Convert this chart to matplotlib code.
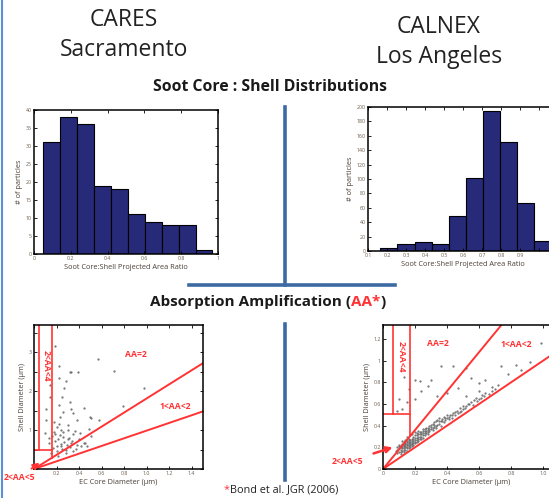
import numpy as np
import matplotlib.pyplot as plt
from matplotlib.lines import Line2D

W, H = 549, 498

# ---- histogram data ----
cares_edges = [0.05, 0.142, 0.234, 0.326, 0.418, 0.51, 0.602, 0.694, 0.786, 0.878, 0.97]
cares_counts = [31, 38, 36, 19, 18, 11, 9, 8, 8, 1]

calnex_edges = [0.165, 0.255, 0.345, 0.435, 0.525, 0.615, 0.705, 0.795, 0.885, 0.975, 1.065]
calnex_counts = [4, 10, 12, 10, 49, 102, 195, 152, 66, 14]

# ---- scatter data: EC core diameter vs shell diameter (um) ----
cares_core = [0.19, 0.22, 0.32, 0.33, 0.39, 0.57, 0.71, 0.98, 0.79, 0.50, 0.51, 0.58, 0.44,
              0.27, 0.28, 0.22, 0.25, 0.32, 0.33, 0.35, 0.38, 0.22, 0.23, 0.26, 0.20, 0.24,
              0.30, 0.35, 0.41, 0.49, 0.26, 0.30, 0.21, 0.19, 0.44, 0.47, 0.38, 0.32, 0.25,
              0.20, 0.51, 0.35, 0.28, 0.21, 0.11, 0.11, 0.10, 0.13, 0.14, 0.14, 0.13, 0.18,
              0.23, 0.27, 0.29, 0.31, 0.17, 0.19, 0.24, 0.28, 0.34, 0.37, 0.42, 0.18, 0.22,
              0.26, 0.30, 0.16, 0.20, 0.40, 0.45, 0.36, 0.15, 0.24, 0.33]
cares_shell = [3.15, 2.65, 2.50, 2.48, 2.48, 2.82, 2.51, 2.08, 1.62, 1.34, 1.30, 1.26, 1.58,
               2.07, 2.25, 2.33, 1.85, 1.72, 1.55, 1.43, 1.26, 1.64, 1.34, 1.47, 1.09, 1.00,
               1.00, 0.89, 0.93, 1.03, 0.83, 0.76, 0.76, 0.89, 0.68, 0.59, 0.61, 0.56, 0.52,
               0.60, 0.85, 0.47, 0.41, 0.34, 1.55, 1.26, 0.92, 0.79, 1.85, 2.15, 0.66, 0.95,
               0.88, 0.70, 0.62, 0.80, 0.55, 0.72, 0.64, 0.50, 0.72, 0.52, 0.60, 1.20, 1.15,
               0.95, 1.12, 0.85, 0.45, 0.78, 0.66, 0.98, 0.40, 0.58, 0.66]

calnex_core = [0.08, 0.09, 0.09, 0.10, 0.10, 0.10, 0.11, 0.11, 0.11, 0.12, 0.12, 0.12, 0.12,
               0.13, 0.13, 0.13, 0.13, 0.14, 0.14, 0.14, 0.14, 0.15, 0.15, 0.15, 0.15, 0.15,
               0.16, 0.16, 0.16, 0.16, 0.17, 0.17, 0.17, 0.17, 0.18, 0.18, 0.18, 0.18, 0.19,
               0.19, 0.19, 0.20, 0.20, 0.20, 0.20, 0.21, 0.21, 0.21, 0.22, 0.22, 0.22, 0.23,
               0.23, 0.24, 0.24, 0.25, 0.25, 0.25, 0.26, 0.26, 0.27, 0.27, 0.28, 0.28, 0.29,
               0.29, 0.30, 0.30, 0.31, 0.32, 0.32, 0.33, 0.34, 0.34, 0.35, 0.36, 0.36, 0.37,
               0.38, 0.38, 0.39, 0.40, 0.40, 0.41, 0.42, 0.43, 0.44, 0.45, 0.46, 0.47, 0.48,
               0.49, 0.50, 0.50, 0.52, 0.53, 0.55, 0.56, 0.57, 0.58, 0.60, 0.62, 0.64, 0.66,
               0.68, 0.70, 0.72,
               0.09, 0.10, 0.11, 0.11, 0.12, 0.12, 0.13, 0.13, 0.13, 0.14, 0.14, 0.15, 0.15,
               0.15, 0.16, 0.16, 0.16, 0.17, 0.17, 0.18, 0.18, 0.19, 0.19, 0.20, 0.20, 0.21,
               0.21, 0.22, 0.22, 0.23, 0.23, 0.24, 0.24, 0.25, 0.25, 0.26, 0.26, 0.27, 0.28,
               0.28, 0.29, 0.30, 0.31, 0.31, 0.32, 0.33, 0.33, 0.35, 0.35, 0.37, 0.39, 0.41,
               0.43, 0.45, 0.48, 0.51, 0.54, 0.59, 0.61, 0.63,
               0.44, 0.365, 0.52, 0.74, 0.83, 0.92, 0.86, 0.99, 0.20, 0.23, 0.30, 0.24, 0.28,
               0.13, 0.10, 0.15, 0.09, 0.16, 0.20, 0.34, 0.40, 0.47, 0.55, 0.60, 0.64, 0.68,
               0.52, 0.60, 0.78, 0.12]
calnex_shell = [0.17, 0.15, 0.20, 0.16, 0.19, 0.22, 0.14, 0.18, 0.21, 0.17, 0.20, 0.23, 0.26,
                0.16, 0.19, 0.22, 0.25, 0.18, 0.21, 0.24, 0.27, 0.17, 0.20, 0.23, 0.26, 0.30,
                0.19, 0.22, 0.25, 0.28, 0.20, 0.23, 0.27, 0.31, 0.21, 0.24, 0.28, 0.32, 0.22,
                0.26, 0.30, 0.24, 0.27, 0.31, 0.34, 0.25, 0.29, 0.33, 0.26, 0.30, 0.35, 0.28,
                0.32, 0.30, 0.34, 0.29, 0.33, 0.37, 0.31, 0.35, 0.33, 0.38, 0.32, 0.36, 0.35,
                0.40, 0.37, 0.41, 0.36, 0.39, 0.43, 0.38, 0.41, 0.45, 0.42, 0.44, 0.40, 0.46,
                0.43, 0.48, 0.45, 0.47, 0.50, 0.48, 0.50, 0.47, 0.52, 0.50, 0.54, 0.52, 0.56,
                0.54, 0.58, 0.55, 0.58, 0.60, 0.62, 0.59, 0.64, 0.66, 0.65, 0.68, 0.70, 0.69,
                0.72, 0.74, 0.78,
                0.18, 0.21, 0.16, 0.20, 0.19, 0.22, 0.18, 0.21, 0.24, 0.20, 0.23, 0.19, 0.22,
                0.25, 0.21, 0.24, 0.27, 0.22, 0.25, 0.23, 0.26, 0.24, 0.28, 0.25, 0.29, 0.27,
                0.31, 0.28, 0.32, 0.30, 0.34, 0.28, 0.32, 0.31, 0.35, 0.33, 0.37, 0.35, 0.34,
                0.38, 0.37, 0.39, 0.38, 0.42, 0.41, 0.40, 0.44, 0.44, 0.47, 0.44, 0.47, 0.46,
                0.50, 0.53, 0.53, 0.56, 0.60, 0.63, 0.66, 0.67,
                0.95, 0.95, 0.93, 0.95, 0.96, 0.99, 0.91, 1.16, 0.82, 0.81, 0.82, 0.72, 0.77,
                0.85, 0.65, 0.62, 0.54, 0.74, 0.65, 0.67, 0.70, 0.75, 0.84, 0.79, 0.82, 0.76,
                0.67, 0.72, 0.88, 0.55]

# AA boundary lines from origin
cares_aa2_x, cares_aa2_y = [0, 1.5], [0, 2.72]
cares_aa1_x, cares_aa1_y = [0, 1.5], [0, 1.48]
calnex_aa2_x, calnex_aa2_y = [0, 0.74], [0, 1.33]
calnex_aa1_x, calnex_aa1_y = [0, 1.1], [0, 1.1]

plt.rcParams['font.family'] = ['Open Sans', 'DejaVu Sans']

fig = plt.figure(figsize=(W / 100, H / 100), dpi=100)

def box(x0, y0, x1, y1):
    # pixel box (top-left origin) -> figure fraction
    return [x0 / W, 1 - y1 / H, (x1 - x0) / W, (y1 - y0) / H]

tick_col = '#6b5b4b'
lab_col = '#4a4038'
red = '#ff3333'
bar_col = '#262a78'
blue = '#3d6aa2'
dot_col = '#707070'

def style(ax):
    ax.tick_params(direction='in', top=True, right=True, length=2.5, width=0.6,
                   labelsize=3.8, labelcolor=tick_col, pad=1.5)
    for s in ax.spines.values():
        s.set_linewidth(1.1)

# ---- histograms ----
ax1 = fig.add_axes(box(34, 110, 218, 254))
ax1.bar(cares_edges[:-1], cares_counts, width=np.diff(cares_edges), align='edge',
        color=bar_col, edgecolor='black', linewidth=0.8)
ax1.set_xlim(0, 1)
ax1.set_ylim(0, 40)
ax1.set_xticks([0, 0.2, 0.4, 0.6, 0.8, 1])
ax1.set_xticklabels(['0', '0.2', '0.4', '0.6', '0.8', '1'])
ax1.set_yticks(range(0, 41, 5))
ax1.set_xlabel('Soot Core:Shell Projected Area Ratio', fontsize=5.3, color=lab_col, labelpad=2)
ax1.set_ylabel('# of particles', fontsize=5.3, color=lab_col, labelpad=2)
style(ax1)

ax2 = fig.add_axes(box(368, 107, 558, 251))
ax2.bar(calnex_edges[:-1], calnex_counts, width=np.diff(calnex_edges), align='edge',
        color=bar_col, edgecolor='black', linewidth=0.8)
ax2.set_xlim(0.1, 1.1)
ax2.set_ylim(0, 200)
ax2.set_xticks([0.1, 0.2, 0.3, 0.4, 0.5, 0.6, 0.7, 0.8, 0.9, 1.0, 1.1])
ax2.set_xticklabels(['0.1', '0.2', '0.3', '0.4', '0.5', '0.6', '0.7', '0.8', '0.9', '', ''])
ax2.set_yticks(range(0, 201, 20))
ax2.set_xlabel('Soot Core:Shell Projected Area Ratio', fontsize=5.3, color=lab_col, labelpad=2)
ax2.set_ylabel('# of particles', fontsize=5.3, color=lab_col, labelpad=2)
style(ax2)

# ---- scatter plots ----
ax3 = fig.add_axes(box(34, 325, 203, 469))
ax3.plot(cares_core, cares_shell, '.', color=dot_col, markersize=1.2)
ax3.plot(cares_aa2_x, cares_aa2_y, color=red, lw=1.4)
ax3.plot(cares_aa1_x, cares_aa1_y, color=red, lw=1.4)
ax3.plot([0.04, 0.04], [0.49, 3.7], color=red, lw=1.2)
ax3.plot([0.16, 0.16], [0.29, 3.7], color=red, lw=1.2)
ax3.plot([0, 0.16], [0.49, 0.49], color=red, lw=1.2)
ax3.set_xlim(0, 1.5)
ax3.set_ylim(0, 3.7)
ax3.set_xticks([0, 0.2, 0.4, 0.6, 0.8, 1.0, 1.2, 1.4])
ax3.set_xticklabels(['', '0.2', '0.4', '0.6', '0.8', '1.0', '1.2', '1.4'])
ax3.set_yticks([0, 0.5, 1, 1.5, 2, 2.5, 3, 3.5])
ax3.set_yticklabels(['', '', '1', '', '2', '', '3', ''])
ax3.set_xlabel('EC Core Diameter (\u00b5m)', fontsize=5.3, color=lab_col, labelpad=2)
ax3.set_ylabel('Shell Diameter (\u00b5m)', fontsize=5.3, color=lab_col, labelpad=2)
style(ax3)
ax3.text(0.9, 2.95, 'AA=2', color=red, fontsize=6.2, fontweight='bold', ha='center', va='center')
ax3.text(1.25, 1.6, '1<AA<2', color=red, fontsize=6.2, fontweight='bold', ha='center', va='center')
ax3.text(0.105, 2.65, '2<AA<4', color=red, fontsize=6.2, fontweight='bold', ha='center',
         va='center', rotation=-90)
ax3.annotate('2<AA<5', xy=(0.05, 0.16), xytext=(-0.13, -0.22), color=red, fontsize=6.2,
             fontweight='bold', ha='center', va='center', annotation_clip=False,
             arrowprops=dict(arrowstyle='-|>', color=red, lw=1.5, mutation_scale=9,
                             shrinkA=2, shrinkB=0))

ax4 = fig.add_axes(box(383, 325, 559, 469))
ax4.plot(calnex_core, calnex_shell, '.', color=dot_col, markersize=1.2)
ax4.plot(calnex_aa2_x, calnex_aa2_y, color=red, lw=1.4)
ax4.plot(calnex_aa1_x, calnex_aa1_y, color=red, lw=1.4)
ax4.plot([0.0625, 0.0625], [0.51, 1.33], color=red, lw=1.2)
ax4.plot([0.17, 0.17], [0.31, 1.33], color=red, lw=1.2)
ax4.plot([0, 0.17], [0.51, 0.51], color=red, lw=1.2)
ax4.set_xlim(0, 1.1)
ax4.set_ylim(0, 1.33)
ax4.set_xticks([0, 0.2, 0.4, 0.6, 0.8, 1.0])
ax4.set_xticklabels(['0', '0.2', '0.4', '0.6', '0.8', '1.0'])
ax4.set_yticks([0, 0.2, 0.4, 0.6, 0.8, 1.0, 1.2])
ax4.set_yticklabels(['0', '0.2', '0.4', '0.6', '0.8', '1', '1.2'])
ax4.set_xlabel('EC Core Diameter (\u00b5m)', fontsize=5.3, color=lab_col, labelpad=2)
ax4.set_ylabel('Shell Diameter (\u00b5m)', fontsize=5.3, color=lab_col, labelpad=2)
style(ax4)
ax4.text(0.34, 1.16, 'AA=2', color=red, fontsize=6.2, fontweight='bold', ha='center', va='center')
ax4.text(0.83, 1.15, '1<AA<2', color=red, fontsize=6.2, fontweight='bold', ha='center', va='center')
ax4.text(0.115, 1.04, '2<AA<4', color=red, fontsize=6.2, fontweight='bold', ha='center',
         va='center', rotation=-90)
ax4.annotate('2<AA<5', xy=(0.06, 0.2), xytext=(-0.225, 0.065), color=red, fontsize=6.2,
             fontweight='bold', ha='center', va='center', annotation_clip=False,
             arrowprops=dict(arrowstyle='-|>', color=red, lw=1.8, mutation_scale=9,
                             shrinkA=6, shrinkB=0))

# ---- slide text ----
dark = '#222222'
fig.text(124 / W, 1 - 20 / H, 'CARES', fontsize=16.5, color=dark, ha='center', va='center')
fig.text(124 / W, 1 - 50 / H, 'Sacramento', fontsize=16.5, color=dark, ha='center', va='center')
fig.text(439 / W, 1 - 27 / H, 'CALNEX', fontsize=16.5, color=dark, ha='center', va='center')
fig.text(439 / W, 1 - 57 / H, 'Los Angeles', fontsize=16.5, color=dark, ha='center', va='center')
fig.text(270 / W, 1 - 87 / H, 'Soot Core : Shell Distributions', fontsize=11.3,
         fontweight='bold', color='#1a1a1a', ha='center', va='center')

t1 = fig.text(150 / W, 1 - 302 / H, 'Absorption Amplification (', fontsize=11,
              fontweight='bold', color='#1a1a1a', ha='left', va='center')
t2 = plt.annotate('AA*', xy=(1, 0), xycoords=t1, fontsize=11, fontweight='bold',
                  color=red, ha='left', va='bottom')
plt.annotate(')', xy=(1, 0), xycoords=t2, fontsize=11, fontweight='bold',
             color='#1a1a1a', ha='left', va='bottom')

s1 = fig.text(224 / W, 1 - 490 / H, '*', fontsize=7.8, color=red, ha='left', va='center')
plt.annotate('Bond et al. JGR (2006)', xy=(1, 0), xycoords=s1, fontsize=7.8,
             color=dark, ha='left', va='bottom')

# ---- slide separator lines ----
fig.add_artist(Line2D([285 / W, 285 / W], [1 - 107 / H, 1 - 285 / H], color=blue, lw=2.6))
fig.add_artist(Line2D([189 / W, 395 / W], [1 - 285 / H, 1 - 285 / H], color=blue, lw=2.6))
fig.add_artist(Line2D([285 / W, 285 / W], [1 - 324 / H, 1 - 480 / H], color=blue, lw=2.6))
fig.add_artist(Line2D([1.5 / W, 1.5 / W], [0, 1], color='#5b8fd6', lw=1.5))

fig.savefig('out.png', dpi=100)
